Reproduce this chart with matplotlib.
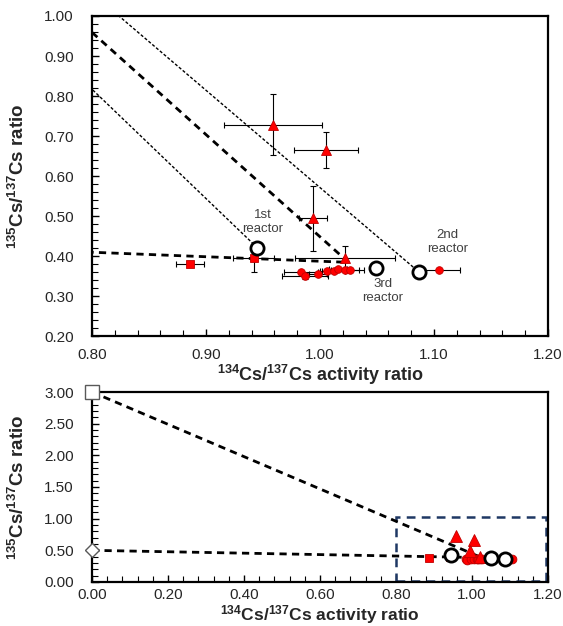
import matplotlib
matplotlib.use("Agg")
import matplotlib.pyplot as plt
from matplotlib.patches import Rectangle
from matplotlib.ticker import MultipleLocator, FormatStrFormatter

plt.rcParams['font.family'] = ['Liberation Sans', 'DejaVu Sans']
plt.rcParams['mathtext.fontset'] = 'custom'
plt.rcParams['mathtext.rm'] = 'Liberation Sans:bold'
plt.rcParams['mathtext.default'] = 'rm'

# samples measured as triangles (with x/y uncertainties)
tri_x = [0.959, 1.005, 0.994, 1.022]
tri_y = [0.728, 0.665, 0.495, 0.395]
tri_xerr = [0.043, 0.028, 0.012, 0.044]
tri_yerr = [0.076, 0.045, 0.081, 0.032]

# samples measured as squares
sq_x = [0.886, 0.942]
sq_y = [0.381, 0.397]
sq_xerr = [0.0125, 0.018]
sq_yerr = [0.0, 0.035]

# samples measured as circles
circ_x = [0.983, 0.987, 0.998, 1.006, 1.012, 1.0155, 1.022, 1.026, 1.104]
circ_y = [0.362, 0.351, 0.357, 0.3635, 0.364, 0.368, 0.366, 0.366, 0.365]
circ_xerr = [0.015, 0.020, 0.008, 0.006, 0.010, 0.008, 0.012, 0.013, 0.019]
circ_yerr = [0.0, 0.008, 0.0, 0.0, 0.0, 0.0, 0.0, 0.0, 0.0]

# reactor core inventories
reactor_names = ['1st\nreactor', '2nd\nreactor', '3rd\nreactor']
reactor_x = [0.945, 1.0865, 1.0487]
reactor_y = [0.4215, 0.3616, 0.3716]
reactor_label_x = [0.950, 1.112, 1.055]
reactor_label_y = [0.486, 0.435, 0.313]

# end members and mixing point
end_hi = (0.0, 3.0)
end_lo = (0.0, 0.5)
mix_pt = (1.025, 0.385)

RED = '#FF0000'
RED_EDGE = '#C00000'
TXT = '#262626'


def style_axes(ax, xmaj, xmin, ymaj, ymin, xpad, xlab_size):
    for s in ax.spines.values():
        s.set_linewidth(1.6)
        s.set_color('black')
    ax.xaxis.set_major_locator(MultipleLocator(xmaj))
    ax.xaxis.set_minor_locator(MultipleLocator(xmin))
    ax.yaxis.set_major_locator(MultipleLocator(ymaj))
    ax.yaxis.set_minor_locator(MultipleLocator(ymin))
    ax.xaxis.set_major_formatter(FormatStrFormatter('%.2f'))
    ax.yaxis.set_major_formatter(FormatStrFormatter('%.2f'))
    ax.tick_params(which='both', direction='in', top=False, right=False,
                   colors='black', labelcolor=TXT, labelsize=11)
    ax.tick_params(which='major', length=5, width=1.0)
    ax.tick_params(which='minor', length=4, width=0.8)
    ax.tick_params(axis='x', pad=xpad)
    ax.tick_params(axis='y', pad=13)
    ax.set_xlabel(r'$^{134}$Cs/$^{137}$Cs activity ratio', fontsize=xlab_size,
                  fontweight='bold', color=TXT)
    ax.set_ylabel(r'$^{135}$Cs/$^{137}$Cs ratio', fontsize=13.5,
                  fontweight='bold', color=TXT)


def draw_samples(ax, with_err, scale=1.0):
    ekw = dict(ecolor='black', elinewidth=0.8, capsize=2.5, capthick=0.8,
               linestyle='none', zorder=4)
    if with_err:
        ax.errorbar(circ_x, circ_y, xerr=circ_xerr, yerr=circ_yerr, fmt='none', **ekw)
        ax.errorbar(sq_x, sq_y, xerr=sq_xerr, yerr=sq_yerr, fmt='none', **ekw)
        ax.errorbar(tri_x, tri_y, xerr=tri_xerr, yerr=tri_yerr, fmt='none', **ekw)
    ax.plot(circ_x, circ_y, 'o', ms=5.5 * scale, mfc=RED, mec=RED_EDGE, mew=0.6, zorder=5)
    ax.plot(sq_x, sq_y, 's', ms=5.5 * scale, mfc=RED, mec=RED_EDGE, mew=0.6, zorder=5)
    ax.plot(tri_x, tri_y, '^', ms=7 * scale, mfc=RED, mec=RED_EDGE, mew=0.6, zorder=5)
    ax.plot(reactor_x, reactor_y, 'o', ms=9.5, mfc='white', mec='black',
            mew=2.0, zorder=6)


fig = plt.figure(figsize=(5.63, 6.26), dpi=100)
ax1 = fig.add_axes([0.1634, 0.4625, 0.81, 0.512])
ax2 = fig.add_axes([0.1634, 0.0703, 0.81, 0.3035])

# --- upper panel: zoom on the sample cluster ---
for rx, ry in zip(reactor_x[:2], reactor_y[:2]):
    ax1.plot([end_hi[0], rx], [end_hi[1], ry], color='black', lw=1.0,
             dashes=(2.2, 1.4), zorder=2)
for ex, ey in (end_hi, end_lo):
    ax1.plot([ex, mix_pt[0]], [ey, mix_pt[1]], color='black', lw=2.0,
             dashes=(2.6, 1.9), zorder=3)
draw_samples(ax1, True)
for name, lx, ly in zip(reactor_names, reactor_label_x, reactor_label_y):
    ax1.text(lx, ly, name, ha='center', va='center', fontsize=9.5,
             color='#404040', linespacing=1.25, zorder=7)
ax1.set_xlim(0.80, 1.20)
ax1.set_ylim(0.20, 1.00)
style_axes(ax1, 0.1, 0.02, 0.1, 0.02, 8, 13)

# --- lower panel: full range with end members ---
for ex, ey in (end_hi, end_lo):
    ax2.plot([ex, mix_pt[0]], [ey, mix_pt[1]], color='black', lw=2.0,
             dashes=(2.6, 1.9), zorder=3)
ax2.add_patch(Rectangle((0.80, 0.02), 0.395, 1.0, fill=False,
                        edgecolor='#1F3864', lw=1.8, linestyle=(0, (3.5, 2.5)),
                        zorder=2))
draw_samples(ax2, False, scale=1.15)
ax2.plot(*end_hi, 's', ms=10, mfc='white', mec='#595959', mew=1.0,
         clip_on=False, zorder=8)
ax2.plot(*end_lo, 'D', ms=7.5, mfc='white', mec='#595959', mew=1.0,
         clip_on=False, zorder=8)
ax2.set_xlim(0.0, 1.20)
ax2.set_ylim(0.0, 3.00)
style_axes(ax2, 0.2, 0.04, 0.5, 0.1, 4, 12.5)

for ax, ly in ((ax1, -0.12), (ax2, -0.172)):
    ax.xaxis.set_label_coords(0.5, ly)
    ax.xaxis.label.set_va('center')
    ax.yaxis.set_label_coords(-0.162, 0.5)
    ax.yaxis.label.set_va('center')

fig.savefig('out.png', dpi=100)
